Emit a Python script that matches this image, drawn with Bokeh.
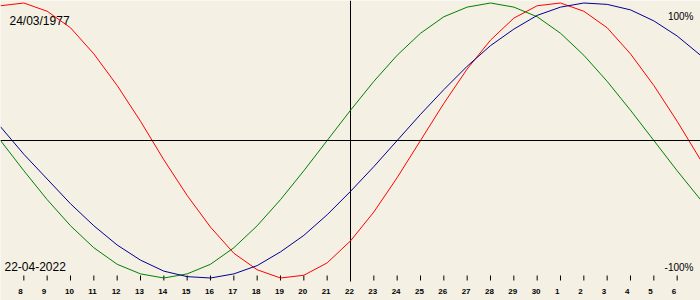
from bokeh.plotting import figure
from bokeh.models import Range1d, Span, Label
from bokeh.core.properties import value
from bokeh.embed import file_html
from bokeh.resources import INLINE

# ---- data ----
# day index: 7 = 7 April 2022 ... 30 = 30 April, 31 = 1 May ... 37 = 7 May
days = list(range(7, 38))
physical = [0.98, 1.00, 0.94, 0.82, 0.63, 0.40, 0.14, -0.14, -0.40, -0.63,
            -0.82, -0.94, -1.00, -0.98, -0.89, -0.73, -0.52, -0.27, 0.00, 0.27,
            0.52, 0.73, 0.89, 0.98, 1.00, 0.94, 0.82, 0.63, 0.40, 0.14, -0.14]
emotional = [0.00, -0.22, -0.43, -0.62, -0.78, -0.90, -0.97, -1.00, -0.97, -0.90,
             -0.78, -0.62, -0.43, -0.22, 0.00, 0.22, 0.43, 0.62, 0.78, 0.90,
             0.97, 1.00, 0.97, 0.90, 0.78, 0.62, 0.43, 0.22, 0.00, -0.22, -0.43]
intellectual = [0.10, -0.10, -0.28, -0.46, -0.62, -0.76, -0.87, -0.95, -0.99, -1.00,
                -0.97, -0.91, -0.81, -0.69, -0.54, -0.37, -0.19, 0.00, 0.19, 0.37,
                0.54, 0.69, 0.81, 0.91, 0.97, 1.00, 0.99, 0.95, 0.87, 0.76, 0.62]
tick_days = list(range(8, 37))
tick_labels = ["8", "9", "10", "11", "12", "13", "14", "15", "16", "17", "18",
               "19", "20", "21", "22", "23", "24", "25", "26", "27", "28", "29",
               "30", "1", "2", "3", "4", "5", "6"]
today = 22
birth_text = "24/03/1977"
date_text = "22-04-2022"
top_text = "100%"
bottom_text = "-100%"

# ---- layout ----
W, H = 700, 300
px_per_day = W / 30.0
px_per_unit = 137.5
x_start = today - 350.0 / px_per_day
y_top = 140.0 / px_per_unit
y_bot = y_top - H / px_per_unit


def ypix(py):
    return y_top - py / px_per_unit


BG = "#F4F0E4"

p = figure(width=W, height=H, output_backend="svg", toolbar_location=None,
           x_range=Range1d(x_start, x_start + 30), y_range=Range1d(y_bot, y_top),
           min_border=0, min_border_left=0, min_border_right=0,
           min_border_top=0, min_border_bottom=0)
p.axis.visible = False
p.grid.visible = False
p.outline_line_color = None
p.background_fill_color = BG
p.border_fill_color = BG

# axes lines
p.add_layout(Span(location=0, dimension="width", line_color="black", line_width=1))
p.segment(x0=[today], y0=[y_top], x1=[today], y1=[ypix(281)], line_color="black", line_width=1)
p.segment(x0=tick_days, y0=[ypix(275)] * len(tick_days), x1=tick_days,
          y1=[ypix(280)] * len(tick_days), line_color="black", line_width=1)
p.text(x=tick_days, y=[ypix(290.5)] * len(tick_days), text=tick_labels,
       x_offset=-5.5, text_align="left", text_baseline="alphabetic",
       text_font=value("Liberation Sans"), text_font_size="8px",
       text_font_style="bold", text_color="black")

# labels (beneath curves)
lab_kw = dict(x_units="screen", y_units="screen", text_baseline="alphabetic",
              text_font="Liberation Sans", text_color="black", level="underlay")
p.add_layout(Label(x=9, y=H - 20.7, text=birth_text, text_font_size="12px", **lab_kw))
p.add_layout(Label(x=4, y=H - 265.7, text=date_text, text_font_size="12px", **lab_kw))
p.add_layout(Label(x=693, y=H - 16.3, text=top_text, text_font_size="10px",
                   text_align="right", **lab_kw))
p.add_layout(Label(x=693, y=H - 266.7, text=bottom_text, text_font_size="10px",
                   text_align="right", **lab_kw))

# curves
p.line(days, physical, line_color="#FF0000", line_width=1)
p.line(days, emotional, line_color="#008000", line_width=1)
p.line(days, intellectual, line_color="#000090", line_width=1)

open("out.html", "w").write(file_html(p, INLINE))
